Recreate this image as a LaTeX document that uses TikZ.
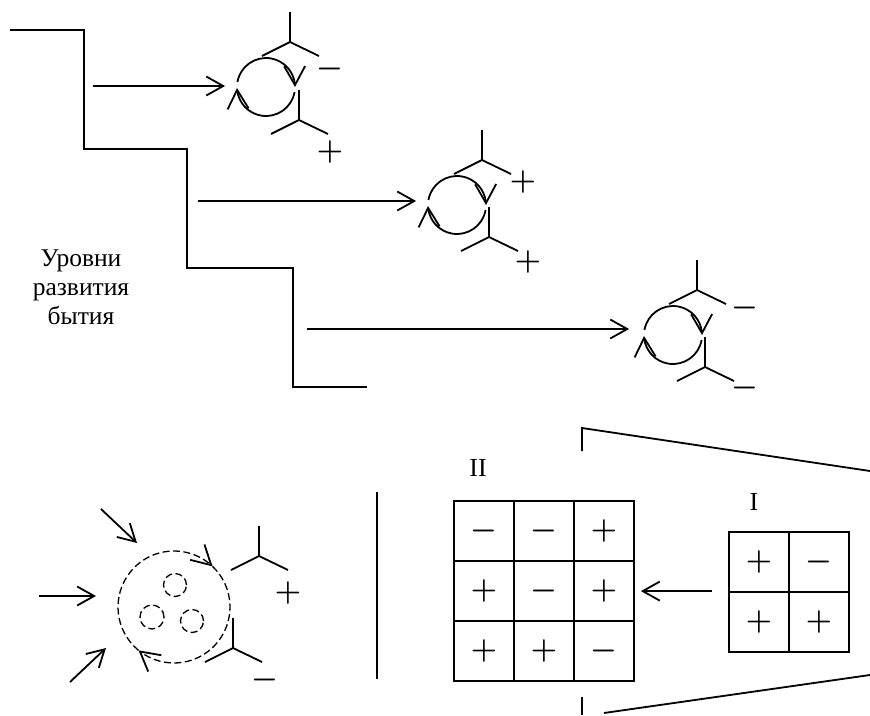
\RequirePackage{fix-cm}
\documentclass[tikz,border=0pt]{standalone}
\usepackage[no-math]{fontspec}
\setmainfont{Liberation Serif}
\usetikzlibrary{arrows.meta,bending}

\begin{document}
\begin{tikzpicture}[x=1pt, y=-1pt, line width=1.8pt,
    arr/.style={-{Straight Barb[length=17pt,width=19pt]}},
    arcarr/.style={-{Straight Barb[length=19pt,width=21pt,line width=1.8pt,flex]}},
    sign/.style={font=\fontsize{30}{30}\selectfont\boldmath, inner sep=0pt},
    cellbox/.style={draw, minimum size=60pt, inner sep=0pt, font=\fontsize{30}{30}\selectfont\boldmath},
    dashline/.style={dash pattern=on 7pt off 3.5pt, line width=1.3pt},
    dashcirc/.style={draw, circle, dashline, inner sep=0pt},
    ring/.style={circle, minimum size=58pt, inner sep=0pt},
    fork/.pic={\draw (0,0) -- (0,-30) (-28,14) -- (0,0) -- (29,14);},
    spin/.pic={\draw[arcarr] (190:29) arc (190:360:29);
               \draw[arcarr] (10:29) arc (10:178:29);}
]
\useasboundingbox (0,0) rectangle (870,715);

% ===== Лестница уровней =====
\draw (10,30) -| (84,149) -| (187,268) -| (293,387) -- (367,387);
\coordinate (a1) at (93,86);
\coordinate (a2) at (198,201);
\coordinate (a3) at (307,329);

\node[font=\fontsize{25.5}{29}\selectfont, align=center] (lvl) at (81,287) {Уровни\\развития\\бытия};

% ===== Круговороты =====
\node[ring] (cyc1) at (266,87) {};
\node[ring] (cyc2) at (457,205) {};
\node[ring] (cyc3) at (673,335) {};
\pic at (cyc1) {spin};
\pic at (cyc2) {spin};
\pic at (cyc3) {spin};

\draw[arr, shorten >=11pt] (a1) -- (a1 -| cyc1.west);
\draw[arr, shorten >=11pt] (a2) -- (a2 -| cyc2.west);
\draw[arr, shorten >=14pt] (a3) -- (a3 -| cyc3.west);

% ===== Развилки и знаки =====
\pic at (290,42) {fork};
\pic at (299,120) {fork};
\node[sign] (s1a) at (330,69) {$-$};
\node[sign] (s1b) at (330,152) {$+$};

\pic at (482,160) {fork};
\pic at (489,237) {fork};
\node[sign] (s2a) at (523,182) {$+$};
\node[sign] (s2b) at (528,262) {$+$};

\pic at (697,290) {fork};
\pic at (705,367) {fork};
\node[sign] (s3a) at (745,308) {$-$};
\node[sign] (s3b) at (745,388) {$-$};

% ===== Клетка =====
\coordinate (cell) at (174,607);
\draw[dashline, arcarr] ([shift={(129.3:56)}]cell) arc (129.3:313.5:56);
\draw[dashline, arcarr] ([shift={(313.5:56)}]cell) arc (313.5:489.3:56);
\node[dashcirc, minimum size=23pt] (v1) at (175,585) {};
\node[dashcirc, minimum size=24pt] (v2) at (152,617) {};
\node[dashcirc, minimum size=23pt] (v3) at (192,621) {};

\coordinate (in1) at (101,509);
\coordinate (in2) at (39,596);
\coordinate (in3) at (70,682);
\draw[arr] (in1) -- (137,543);
\draw[arr] (in2) -- (96,596);
\draw[arr] (in3) -- (106,648);

\pic at (259,556) {fork};
\pic at (233,648) {fork};
\node[sign] (s4a) at (288,593) {$+$};
\node[sign] (s4b) at (265,680) {$-$};

\draw (377,492) -- (377,679);

% ===== Таблицы II и I =====
\foreach \r/\row in {0/{-,-,+},1/{+,-,+},2/{+,+,-}} {
    \foreach \s [count=\c from 0] in \row {
        \node[cellbox] (g2-\r\c) at (484+60*\c,531+60*\r) {$\s$};
    }
}
\foreach \r/\row in {0/{+,-},1/{+,+}} {
    \foreach \s [count=\c from 0] in \row {
        \node[cellbox] (g1-\r\c) at (759+60*\c,562+60*\r) {$\s$};
    }
}
\node[font=\fontsize{26}{26}\selectfont] (lII) at (478,468) {II};
\node[font=\fontsize{26}{26}\selectfont] (lI) at (754,502) {I};

\draw[arr, shorten <=16pt, shorten >=6pt] (g1-10.north west) -- (g1-10.north west -| g2-12.east);

% ===== Рамка =====
\draw (582,451) -- (582,428) -- (870,471);
\draw (582,697) -- (582,715);
\draw (604,713) -- (870,675);

\end{tikzpicture}
\end{document}
